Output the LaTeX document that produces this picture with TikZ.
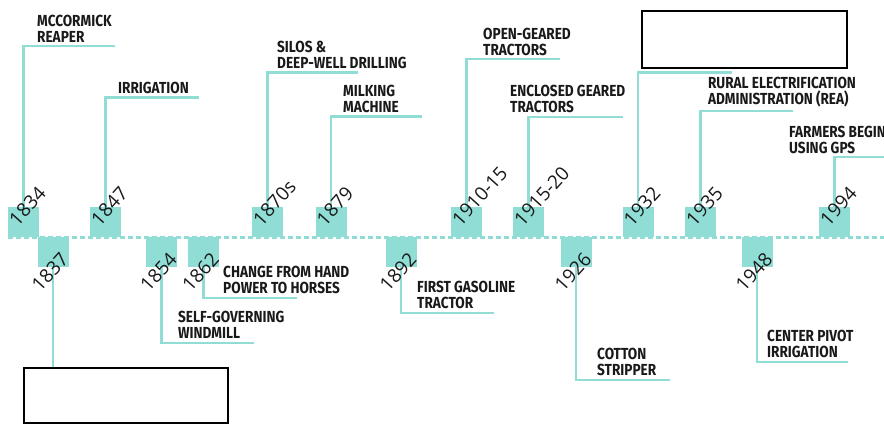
\documentclass[tikz,border=0pt]{standalone}
\usepackage{fontspec}
\setmainfont{Open Sans}
\newfontfamily\eventfont[FakeStretch=0.85]{Fira Sans}
\usepackage{xcolor}
\definecolor{tlteal}{RGB}{144,221,213}
\definecolor{tlink}{RGB}{25,25,25}
\usepackage{tikz}
\usetikzlibrary{calc}

\tikzset{
  yearbox/.style={fill=tlteal, minimum width=31pt, minimum height=30pt, inner sep=0pt},
  yearup/.style={rotate=48, anchor=base west, inner sep=0pt, text=tlink, font=\fontsize{19}{19}\selectfont},
  yeardown/.style={rotate=48, anchor=base east, inner sep=0pt, text=tlink, font=\fontsize{19}{19}\selectfont},
  eventlabel/.style={anchor=south west, align=left, inner sep=0pt, text=tlink, font=\eventfont\bfseries\fontsize{16}{16}\selectfont},
  conn/.style={draw=tlteal, line width=2.6pt},
  timeline/.style={draw=tlteal, line width=3pt, dash pattern=on 5pt off 3pt},
  coverbox/.style={draw=black, line width=1.8pt, fill=white, anchor=north west, inner sep=0pt}
}

\begin{document}
\begin{tikzpicture}[x=1pt, y=-1pt]
  \useasboundingbox (0,0) rectangle (884,424);

  % the time axis
  \coordinate (tlstart) at (8,237);
  \coordinate (tlend) at (884,237);
  \draw[timeline] (tlstart) -- (tlend);

  % events above the axis
  \node[yearbox] (b1834) at (23.5,222) {};
  \coordinate (e1834) at (115,46);
  \draw[conn] (b1834.north) |- (e1834);
  \node[yearup] (y1834) at ($(b1834.south west)+(10,-10)$) {1834};
  \node[eventlabel] (l1834) at (37,43) {MCCORMICK\\REAPER};

  \node[yearbox] (b1847) at (105.5,222) {};
  \coordinate (e1847) at (199,97.5);
  \draw[conn] (b1847.north) |- (e1847);
  \node[yearup] (y1847) at ($(b1847.south west)+(10,-10)$) {1847};
  \node[eventlabel] (l1847) at (118,94) {IRRIGATION};

  \node[yearbox] (b1870) at (267.5,222) {};
  \coordinate (e1870) at (358,72.5);
  \draw[conn] (b1870.north) |- (e1870);
  \node[yearup] (y1870) at ($(b1870.south west)+(10,-10)$) {1870s};
  \node[eventlabel] (l1870) at (277,69) {SILOS \&\\DEEP-WELL DRILLING};

  \node[yearbox] (b1879) at (331,222) {};
  \coordinate (e1879) at (422,116.5);
  \draw[conn] (b1879.north) |- (e1879);
  \node[yearup] (y1879) at ($(b1879.south west)+(10,-10)$) {1879};
  \node[eventlabel] (l1879) at (343,113) {MILKING\\MACHINE};

  \node[yearbox] (b1910) at (466.5,222) {};
  \coordinate (e1910) at (560,59);
  \draw[conn] (b1910.north) |- (e1910);
  \node[yearup] (y1910) at ($(b1910.south west)+(10,-10)$) {1910-15};
  \node[eventlabel] (l1910) at (483,55.5) {OPEN-GEARED\\TRACTORS};

  \node[yearbox] (b1915) at (528.5,222) {};
  \coordinate (e1915) at (623,117);
  \draw[conn] (b1915.north) |- (e1915);
  \node[yearup] (y1915) at ($(b1915.south west)+(10,-10)$) {1915-20};
  \node[eventlabel] (l1915) at (510,113) {ENCLOSED GEARED\\TRACTORS};

  \node[yearbox] (b1932) at (638,222) {};
  \coordinate (e1932) at (732,72.5);
  \draw[conn] (b1932.north) |- (e1932);
  \node[yearup] (y1932) at ($(b1932.south west)+(10,-10)$) {1932};
  \node[coverbox, minimum width=205pt, minimum height=57pt] (cover1932) at (641,10) {};

  \node[yearbox] (b1935) at (700.5,222) {};
  \coordinate (e1935) at (793,111);
  \draw[conn] (b1935.north) |- (e1935);
  \node[yearup] (y1935) at ($(b1935.south west)+(10,-10)$) {1935};
  \node[eventlabel] (l1935) at (708,107.5) {RURAL ELECTRIFICATION\\ADMINISTRATION (REA)};

  \node[yearbox] (b1994) at (834.5,222) {};
  \coordinate (e1994) at (884,157);
  \draw[conn] (b1994.north) |- (e1994);
  \node[yearup] (y1994) at ($(b1994.south west)+(10,-10)$) {1994};
  \node[eventlabel] (l1994) at (789,153.5) {FARMERS BEGIN\\USING GPS};

  % events below the axis
  \node[yearbox] (b1837) at (53,252) {};
  \node[coverbox, minimum width=204pt, minimum height=55pt] (cover1837) at (23,367) {};
  \draw[conn] (b1837.south) -- (b1837.south |- cover1837.north);
  \node[yeardown] (y1837) at ($(b1837.south east)+(1,-7)$) {1837};

  \node[yearbox] (b1854) at (161.5,252) {};
  \coordinate (e1854) at (254,343);
  \draw[conn] (b1854.south) |- (e1854);
  \node[yeardown] (y1854) at ($(b1854.south east)+(1,-7)$) {1854};
  \node[eventlabel] (l1854) at (178,339) {SELF-GOVERNING\\WINDMILL};

  \node[yearbox] (b1862) at (203.5,252) {};
  \coordinate (e1862) at (297,298);
  \draw[conn] (b1862.south) |- (e1862);
  \node[yeardown] (y1862) at ($(b1862.south east)+(1,-7)$) {1862};
  \node[eventlabel] (l1862) at (223,294) {CHANGE FROM HAND\\POWER TO HORSES};

  \node[yearbox] (b1892) at (401,252) {};
  \coordinate (e1892) at (494,313);
  \draw[conn] (b1892.south) |- (e1892);
  \node[yeardown] (y1892) at ($(b1892.south east)+(1,-7)$) {1892};
  \node[eventlabel] (l1892) at (417,309) {FIRST GASOLINE\\TRACTOR};

  \node[yearbox] (b1926) at (576,252) {};
  \coordinate (e1926) at (670,380);
  \draw[conn] (b1926.south) |- (e1926);
  \node[yeardown] (y1926) at ($(b1926.south east)+(1,-7)$) {1926};
  \node[eventlabel] (l1926) at (597,376) {COTTON\\STRIPPER};

  \node[yearbox] (b1948) at (757,252) {};
  \coordinate (e1948) at (848,362);
  \draw[conn] (b1948.south) |- (e1948);
  \node[yeardown] (y1948) at ($(b1948.south east)+(1,-7)$) {1948};
  \node[eventlabel] (l1948) at (767,358) {CENTER PIVOT\\IRRIGATION};
\end{tikzpicture}
\end{document}
